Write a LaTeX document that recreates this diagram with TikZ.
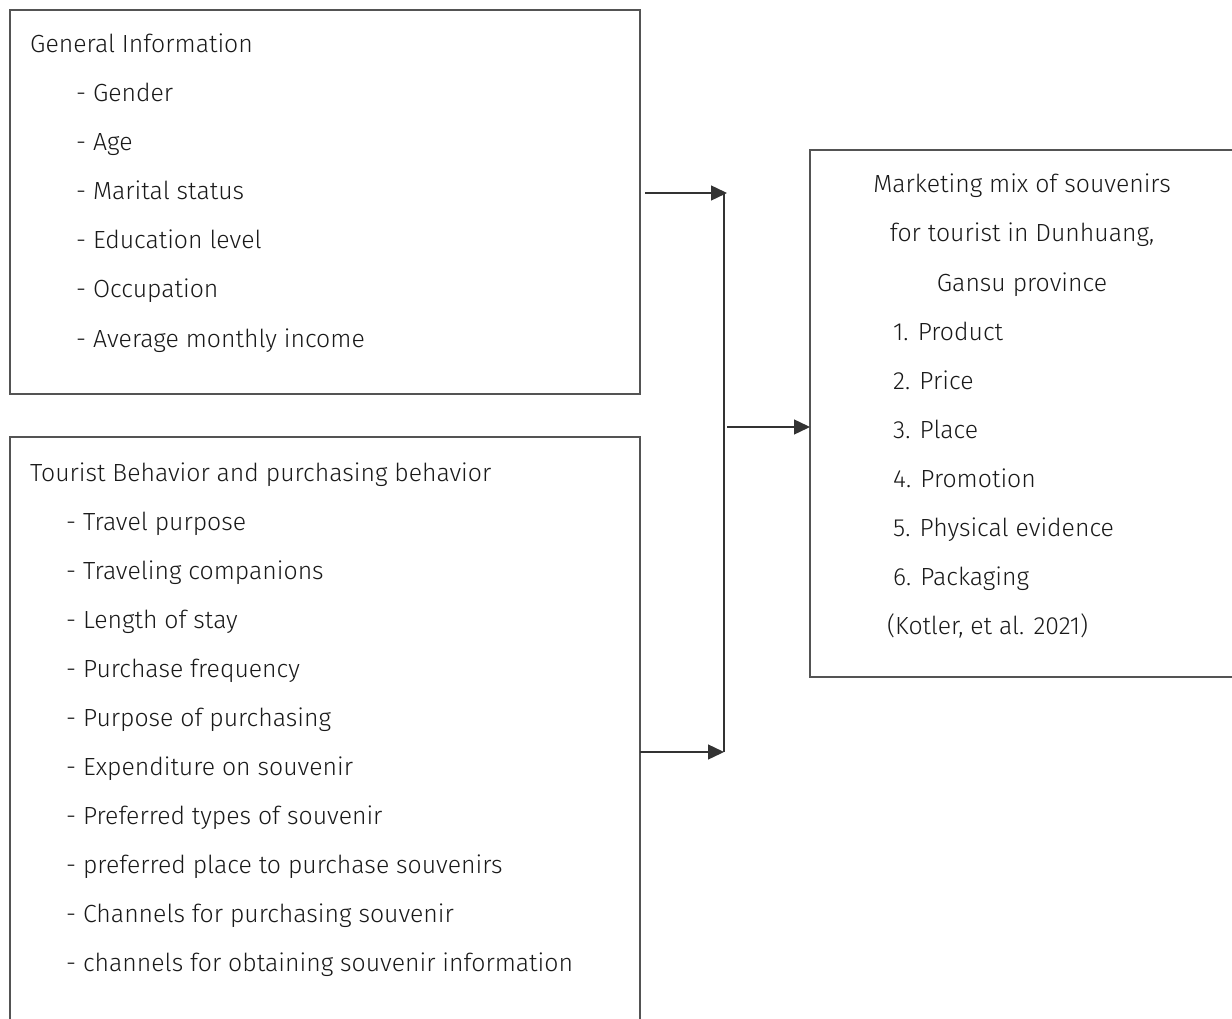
\documentclass[tikz,border=0pt]{standalone}
\usepackage{fontspec}
\setmainfont{Fira Sans}[UprightFont=* Light]
\usetikzlibrary{arrows.meta}
\begin{document}
\begin{tikzpicture}[x=1pt,y=-1pt,
  boxline/.style={draw=black!67,line width=1.6pt},
  txt/.style={anchor=base west,inner sep=0pt,font=\fontsize{24.8}{29}\selectfont,text=black!90},
  ctxt/.style={anchor=base,inner sep=0pt,font=\fontsize{24.8}{29}\selectfont,text=black!90},
  conn/.style={line width=1.4pt,black!80},
  arr/.style={conn,-{Triangle[length=16pt,width=15pt]}}]
\useasboundingbox (0,0) rectangle (1232,1019);
% boxes
\draw[boxline] (10,10) rectangle (640,394);
\draw[boxline] (10,1030) -- (10,437) -- (640,437) -- (640,1030);
\draw[boxline] (1240,150) -- (810,150) -- (810,677) -- (1240,677);
% box 1 text
\node[txt] (g0) at (30,53) {General Information};
\foreach \t [count=\i] in {Gender,Age,Marital status,Education level,Occupation,Average monthly income}
  \node[txt] (g\i) at (76,{53+49*\i}) {- \t};
% box 2 text
\node[txt] (t0) at (30,481) {Tourist Behavior and purchasing behavior};
\foreach \t [count=\i] in {Travel purpose,Traveling companions,Length of stay,Purchase frequency,Purpose of purchasing,Expenditure on souvenir,Preferred types of souvenir,preferred place to purchase souvenirs,Channels for purchasing souvenir,channels for obtaining souvenir information}
  \node[txt] (t\i) at (66,{481+49*\i}) {- \t};
% box 3 text
\node[ctxt] (m1) at (1022,193) {Marketing mix of souvenirs};
\node[ctxt] (m2) at (1022,242) {for tourist in Dunhuang,};
\node[ctxt] (m3) at (1022,291) {Gansu province};
\node[txt] (p1) at (893,340) {1. Product};
\node[txt] (p2) at (893,389) {2. Price};
\node[txt] (p3) at (893,438) {3. Place};
\node[txt] (p4) at (893,487) {4. Promotion};
\node[txt] (p5) at (893,536) {5. Physical evidence};
\node[txt] (p6) at (893,585) {6. Packaging};
\node[txt] (ref) at (887,634) {(Kotler, et al. 2021)};
% connectors
\coordinate (a1s) at (645,193);
\coordinate (a1e) at (727,193);
\coordinate (j1) at (724,193);
\coordinate (j2) at (724,752);
\coordinate (a2s) at (727,427);
\coordinate (a2e) at (810,427);
\coordinate (a3s) at (640,752);
\coordinate (a3e) at (724,752);
\draw[arr] (a1s) -- (a1e);
\draw[conn] (j1) -- (j2);
\draw[arr] (a3s) -- (a3e);
\draw[arr] (a2s) -- (a2e);
\end{tikzpicture}
\end{document}
